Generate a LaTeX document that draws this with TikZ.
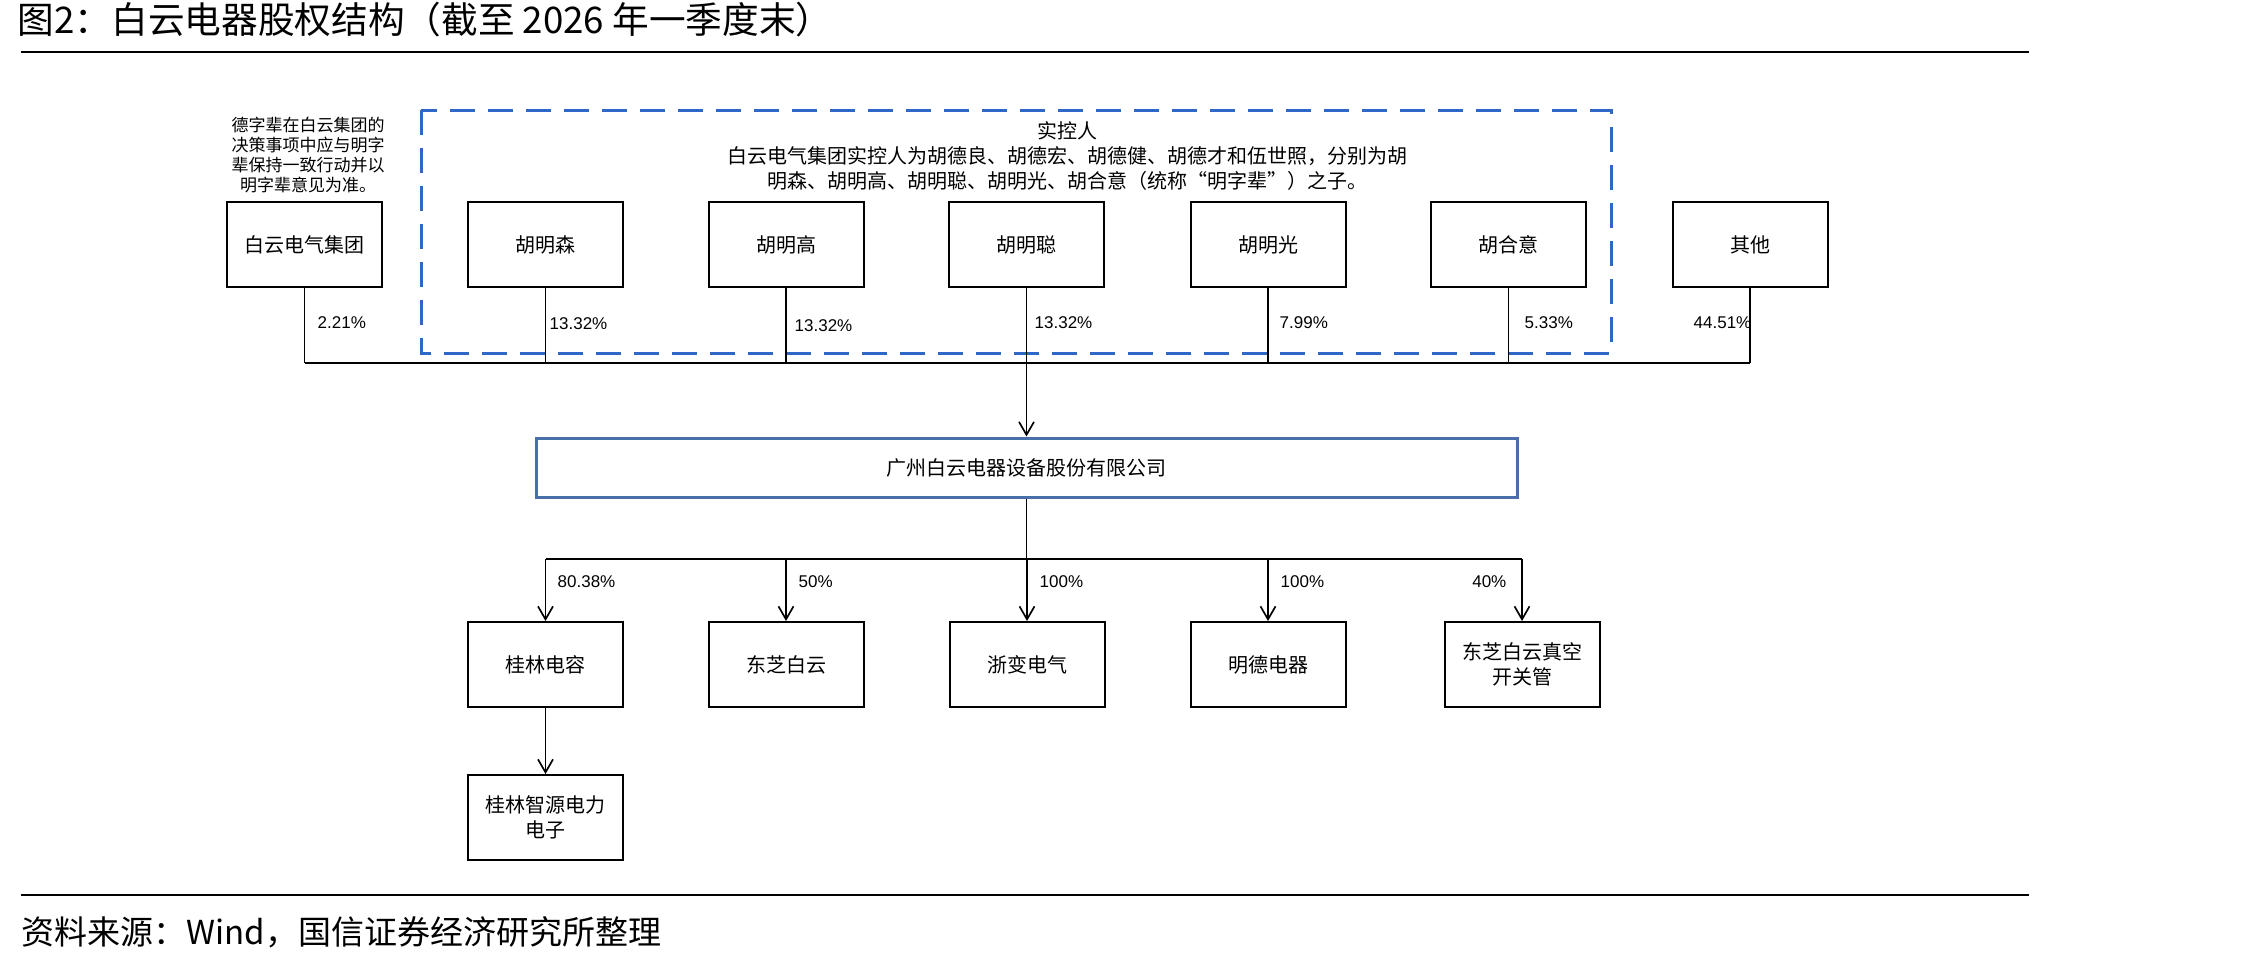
\documentclass[tikz,border=0pt]{standalone}
\usepackage{fontspec}
\setmainfont{Noto Sans CJK SC}
\newfontfamily\cjk{Noto Sans CJK SC}
\newfontfamily\lat{Liberation Sans}
\usetikzlibrary{arrows.meta}
\definecolor{dashblue}{HTML}{2E67C8}
\definecolor{cobox}{HTML}{4A6EAA}
\tikzset{
  box/.style={draw=black, line width=0.6pt, minimum width=46.5pt, minimum height=25.5pt, inner sep=0pt, align=center, font=\cjk\fontsize{6pt}{7.5pt}\selectfont},
  pct/.style={inner sep=0pt, font=\lat\fontsize{5.1pt}{6pt}\selectfont},
  conn/.style={line width=0.5pt, black},
  arr/.style={line width=0.5pt, black, -{Straight Barb[length=3.9pt,width=4.5pt,line width=0.5pt]}},
}
\begin{document}
\begin{tikzpicture}[x=0.3pt,y=-0.3pt]
\useasboundingbox (0,0) rectangle (2244,961);
% title
\node[anchor=west, inner sep=0pt, font=\cjk\fontsize{11pt}{12pt}\selectfont] (title) at (17,20) {图2：白云电器股权结构（截至 2026 年一季度末）};
\coordinate (tl1) at (21,52);
\coordinate (tl2) at (2029,52);
\draw[line width=0.45pt] (tl1) -- (tl2);
% footer
\coordinate (fl1) at (21,895);
\coordinate (fl2) at (2029,895);
\draw[line width=0.45pt] (fl1) -- (fl2);
\node[anchor=west, inner sep=0pt, font=\cjk\fontsize{9.9pt}{12pt}\selectfont] (foot) at (21,932) {资料来源：Wind，国信证券经济研究所整理};

% dashed controller frame
\draw[dashblue, line width=0.9pt, dash pattern=on 7.5pt off 3.9pt] (421,110) rectangle (1611,353);
\node[inner sep=0pt, align=center, font=\cjk\fontsize{6pt}{7.5pt}\selectfont] (ctl) at (1067,156) {实控人\\白云电气集团实控人为胡德良、胡德宏、胡德健、胡德才和伍世照，分别为胡\\明森、胡明高、胡明聪、胡明光、胡合意（统称“明字辈”）之子。};

% note
\node[inner sep=0pt, align=center, font=\cjk\fontsize{5.1pt}{6pt}\selectfont] (note) at (308,155) {德字辈在白云集团的\\决策事项中应与明字\\辈保持一致行动并以\\明字辈意见为准。};

% top boxes
\node[box] (b1) at (304.5,244.5) {白云电气集团};
\node[box] (b2) at (545.5,244.5) {胡明森};
\node[box] (b3) at (786,244.5) {胡明高};
\node[box] (b4) at (1026.5,244.5) {胡明聪};
\node[box] (b5) at (1268,244.5) {胡明光};
\node[box] (b6) at (1508.5,244.5) {胡合意};
\node[box] (b7) at (1750,244.5) {其他};

\coordinate (bus) at (0,363);
\foreach \n in {b1,b2,b3,b5,b6,b7}{
  \draw[conn] (\n.south) -- (\n.south |- bus);
}
\draw[conn] (b1.south |- bus) -- (b7.south |- bus);

% company
\node[draw=cobox, line width=0.9pt, minimum width=294.3pt, minimum height=17.7pt, inner sep=0pt, font=\cjk\fontsize{6pt}{7.5pt}\selectfont] (co) at (1026.5,467.5) {广州白云电器设备股份有限公司};
\draw[arr] (b4.south) -- (co.north);

% percentages top
\node[pct, anchor=west] (p1) at (317,323) {2.21\%};
\node[pct, anchor=west] (p2) at (549,324) {13.32\%};
\node[pct, anchor=west] (p3) at (794,326) {13.32\%};
\node[pct, anchor=west] (p4) at (1034,323) {13.32\%};
\node[pct, anchor=west] (p5) at (1279,323) {7.99\%};
\node[pct, anchor=west] (p6) at (1524,323) {5.33\%};
\node[pct, anchor=east] (p7) at (1752,323) {44.51\%};

% subsidiaries
\node[box] (s1) at (545.5,664.5) {桂林电容};
\node[box] (s2) at (786,664.5) {东芝白云};
\node[box] (s3) at (1027,664.5) {浙变电气};
\node[box] (s4) at (1268,664.5) {明德电器};
\node[box] (s5) at (1522,664.5) {东芝白云真空\\开关管};
\node[box] (s6) at (545.5,817.5) {桂林智源电力\\电子};

\coordinate (sbus) at (0,559);
\draw[conn] (co.south) -- (co.south |- sbus);
\draw[conn] (s1.north |- sbus) -- (s5.north |- sbus);
\foreach \n in {s1,s2,s3,s4,s5}{
  \draw[arr] (\n.north |- sbus) -- (\n.north);
}
\draw[arr] (s1.south) -- (s6.north);

\node[pct, anchor=west] (q1) at (557,582) {80.38\%};
\node[pct, anchor=west] (q2) at (798,582) {50\%};
\node[pct, anchor=west] (q3) at (1039,582) {100\%};
\node[pct, anchor=west] (q4) at (1280,582) {100\%};
\node[pct, anchor=east] (q5) at (1507,582) {40\%};
\end{tikzpicture}
\end{document}
